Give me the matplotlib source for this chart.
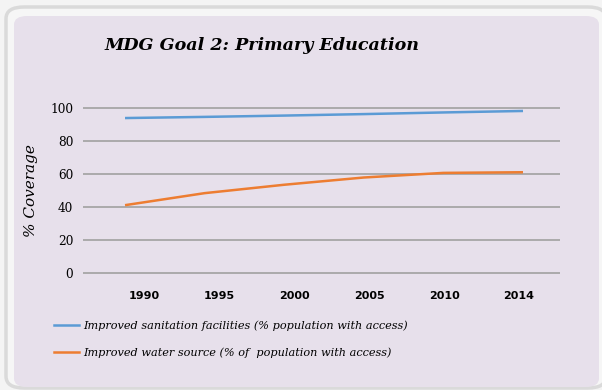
import numpy as np
import matplotlib.pyplot as plt
from matplotlib.patches import FancyBboxPatch
from matplotlib.lines import Line2D

years = ["1990", "1995", "2000", "2005", "2010", "2014"]
sanitation = [93.9, 94.6, 95.4, 96.3, 97.3, 98.2]
water = [41.0, 48.3, 53.4, 57.8, 60.6, 61.0]

SAN_COLOR = "#5b9bd5"
WAT_COLOR = "#ed7d31"
PANEL = "#e7e0eb"
GRID = "#a6a6a6"

fig = plt.figure(figsize=(6.02, 3.90), dpi=100, facecolor="#f4f4f4")

# rounded frame behind the chart
W, H = 602, 390
ring = FancyBboxPatch((6 / W, 2 / H), 600 / W, 381 / H,
                      boxstyle="round,pad=0,rounding_size=0.03",
                      transform=fig.transFigure, facecolor="#f6f6f6",
                      edgecolor="#dadada", linewidth=2.5, zorder=0)
fig.patches.append(ring)
panel = FancyBboxPatch((14 / W, 3 / H), 585 / W, 371 / H,
                       boxstyle="round,pad=0,rounding_size=0.022",
                       transform=fig.transFigure, facecolor=PANEL,
                       edgecolor="none", zorder=1)
fig.patches.append(panel)

# plot area: 0 at y=272.7px, 100 at y=108px, padded by 1 unit each side
ppu = 164.7 / 100
ax = fig.add_axes([83 / W, 1 - (272.7 + ppu) / H, 477 / W, (164.7 + 2 * ppu) / H])
ax.set_zorder(3)
ax.set_facecolor("none")

x = np.arange(len(years))
ax.plot(x, sanitation, color=SAN_COLOR, lw=1.8, solid_capstyle="butt",
        label="Improved sanitation facilities (% population with access)")
ax.plot(x, water, color=WAT_COLOR, lw=1.8, solid_capstyle="butt",
        label="Improved water source (% of  population with access)")

ax.set_xlim(-0.528, 5.465)
ax.set_ylim(-1, 101)
ax.set_yticks([0, 20, 40, 60, 80, 100])
ax.yaxis.grid(True, color=GRID, lw=1.3)
ax.set_axisbelow(True)
for s in ax.spines.values():
    s.set_visible(False)
ax.tick_params(length=0)
ax.tick_params(axis="y", pad=7, labelsize=8.7)
for lab in ax.get_yticklabels():
    lab.set_fontfamily("DejaVu Serif")

ax.set_xticks(np.linspace(0.24, 4.95, len(years)))
ax.set_xticklabels(years, fontsize=8, fontweight="bold", fontfamily="DejaVu Sans")
ax.tick_params(axis="x", pad=12)

ax.set_ylabel("% Coverage", fontsize=11, fontstyle="italic",
              fontfamily="DejaVu Serif", labelpad=9)

title = fig.text(262 / W, 1 - 45 / H, "MDG Goal 2: Primary Education",
                 ha="center", va="center", fontsize=12.6, fontweight="bold",
                 fontstyle="italic", fontfamily="DejaVu Serif")
title.set_zorder(4)

handles = [Line2D([], [], color=SAN_COLOR, lw=1.8),
           Line2D([], [], color=WAT_COLOR, lw=1.8)]
leg = fig.legend(handles, [l.get_label() for l in ax.get_lines()],
                 loc="upper left", bbox_to_anchor=(44 / W, 1 - 310 / H),
                 frameon=False, handlelength=2.25, handletextpad=0.35,
                 labelspacing=1.5,
                 prop=dict(family="DejaVu Serif", style="italic", size=8.1))
leg.set_zorder(4)

fig.savefig("out.png", dpi=100, facecolor=fig.get_facecolor())
